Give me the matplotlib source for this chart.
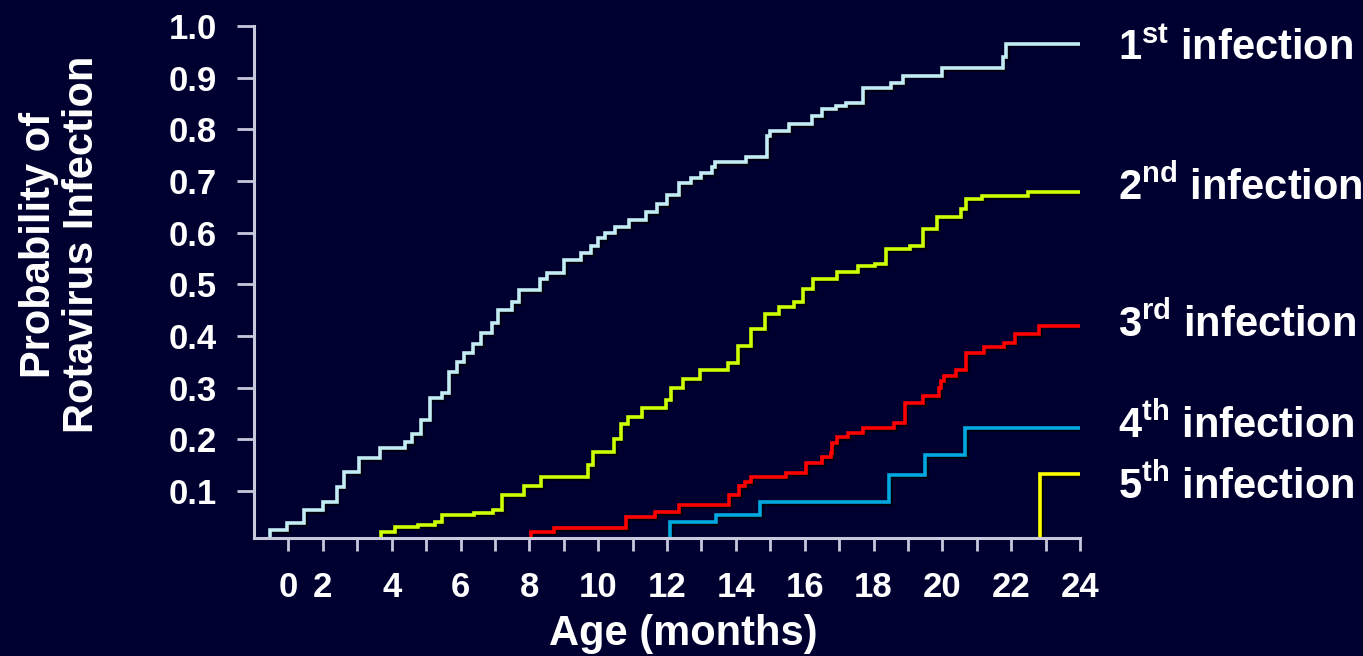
import matplotlib
matplotlib.use("Agg")
import matplotlib.pyplot as plt
import matplotlib.patheffects as pe

plt.rcParams['font.family'] = ['Liberation Sans', 'DejaVu Sans']
plt.rcParams['mathtext.default'] = 'regular'

# step curves: month where a level starts, probability of that level
first_m = [0.3, 0.45, 0.95, 1.45, 2.0, 2.4, 2.6, 3.05, 3.65, 4.4, 4.6, 4.85, 5.1, 5.45,
           5.65, 5.9, 6.1, 6.35, 6.6, 6.9, 7.1, 7.5, 7.7, 8.3, 8.5, 9.0, 9.5, 9.8, 10.0,
           10.2, 10.5, 10.9, 11.4, 11.7, 12.0, 12.35, 12.7, 13.0, 13.3, 13.4, 14.3, 14.9,
           15.0, 15.55, 16.2, 16.5, 16.9, 17.2, 17.7, 18.5, 18.85, 20.0, 21.75, 21.85, 24.0]
first_p = [0.0, 0.025, 0.038, 0.063, 0.079, 0.108, 0.137, 0.164, 0.183, 0.195, 0.21, 0.238,
           0.28, 0.29, 0.33, 0.35, 0.368, 0.385, 0.406, 0.425, 0.45, 0.465, 0.489, 0.51,
           0.522, 0.547, 0.56, 0.575, 0.59, 0.60, 0.61, 0.624, 0.64, 0.655, 0.673, 0.696,
           0.705, 0.715, 0.727, 0.737, 0.746, 0.787, 0.797, 0.81, 0.825, 0.84, 0.845, 0.85,
           0.879, 0.89, 0.904, 0.918, 0.94, 0.966, 0.966]

second_m = [3.15, 3.68, 4.1, 4.75, 5.25, 5.45, 6.4, 6.95, 7.2, 7.83, 8.35, 9.7, 9.86, 10.45,
            10.65, 10.86, 11.26, 11.96, 12.11, 12.46, 12.96, 13.76, 14.06, 14.45, 14.85,
            15.25, 15.7, 15.95, 16.25, 16.95, 17.55, 18.05, 18.35, 19.05, 19.45, 19.85,
            20.55, 20.7, 21.15, 22.5, 24.0]
second_p = [0.0, 0.02, 0.03, 0.034, 0.04, 0.053, 0.057, 0.063, 0.092, 0.11, 0.127, 0.15,
            0.175, 0.20, 0.23, 0.244, 0.26, 0.277, 0.30, 0.316, 0.335, 0.348, 0.38, 0.413,
            0.442, 0.457, 0.465, 0.49, 0.51, 0.523, 0.535, 0.539, 0.568, 0.574, 0.607,
            0.63, 0.646, 0.665, 0.67, 0.678, 0.678]

third_m = [7.9, 8.05, 8.71, 10.81, 11.66, 12.36, 13.81, 14.1, 14.26, 14.45, 15.45, 16.05,
           16.5, 16.75, 16.8, 16.95, 17.25, 17.7, 18.6, 18.9, 19.45, 19.9, 19.95, 20.05,
           20.4, 20.7, 21.2, 21.8, 22.1, 22.8, 24.0]
third_p = [0.0, 0.02, 0.028, 0.05, 0.059, 0.072, 0.092, 0.11, 0.117, 0.128, 0.135, 0.154,
           0.165, 0.173, 0.193, 0.205, 0.213, 0.222, 0.232, 0.27, 0.283, 0.30, 0.312,
           0.322, 0.335, 0.368, 0.378, 0.387, 0.403, 0.42, 0.42]

fourth_m = [12.1, 12.1, 13.41, 14.71, 18.45, 19.5, 20.65, 24.0]
fourth_p = [0.0, 0.04, 0.053, 0.078, 0.13, 0.17, 0.222, 0.222]

fifth_m = [22.85, 22.85, 24.0]
fifth_p = [0.0, 0.133, 0.133]

curves = [(first_m, first_p, '#C4ECF4'),
          (second_m, second_p, '#CCFF00'),
          (third_m, third_p, '#FF0000'),
          (fourth_m, fourth_p, '#00A8E0'),
          (fifth_m, fifth_p, '#FFFF00')]

labels = ['1$^{st}$ infection', '2$^{nd}$ infection', '3$^{rd}$ infection',
          '4$^{th}$ infection', '5$^{th}$ infection']
label_y = [0.934, 0.663, 0.398, 0.204, 0.086]

yticks = [0.1, 0.2, 0.3, 0.4, 0.5, 0.6, 0.7, 0.8, 0.9, 1.0]
xticks = list(range(1, 25))
xticklabels = ['0' if m == 1 else (str(m) if m % 2 == 0 else '') for m in xticks]

bg = '#000030'
axis_col = '#C8C8DC'

fig = plt.figure(figsize=(13.63, 6.56), dpi=100, facecolor=bg)
ax = fig.add_axes([0.1864, 0.1799, 0.606, 0.7805])
ax.set_facecolor(bg)

for m, p, c in curves:
    ax.step(m, p, where='post', color=c, lw=2.6, solid_joinstyle='miter',
            path_effects=[pe.SimpleLineShadow(offset=(1.3, -1.3), shadow_color='black', alpha=0.7),
                          pe.Normal()])

ax.set_xlim(0, 24)
ax.set_ylim(0.009, 1.0)

for s in ['top', 'right']:
    ax.spines[s].set_visible(False)
for s in ['left', 'bottom']:
    ax.spines[s].set_color(axis_col)
    ax.spines[s].set_linewidth(2.2)

ax.set_yticks(yticks)
ax.set_yticklabels([f'{v:.1f}' for v in yticks])
ax.set_xticks(xticks)
ax.set_xticklabels(xticklabels)
ax.tick_params(axis='y', length=12, width=2, color=axis_col, pad=15,
               labelsize=25, labelcolor='white')
ax.tick_params(axis='x', length=9, width=2, color=axis_col, pad=15,
               labelsize=25, labelcolor='white')
for t in ax.get_xticklabels() + ax.get_yticklabels():
    t.set_fontweight('bold')

for lab, y in zip(labels, label_y):
    ax.text(25.09, y, lab, color='white', fontsize=30, fontweight='bold',
            va='baseline', ha='left', clip_on=False)

fig.text(0.501, 0.034, 'Age (months)', color='white', fontsize=30, fontweight='bold',
         ha='center', va='center')
fig.text(0.0445, 0.627, 'Probability of\nRotavirus Infection', color='white', fontsize=30,
         fontweight='bold', rotation=90, ha='center', va='center', multialignment='center',
         linespacing=1.1)

fig.savefig('out.png', dpi=100, facecolor=bg)
